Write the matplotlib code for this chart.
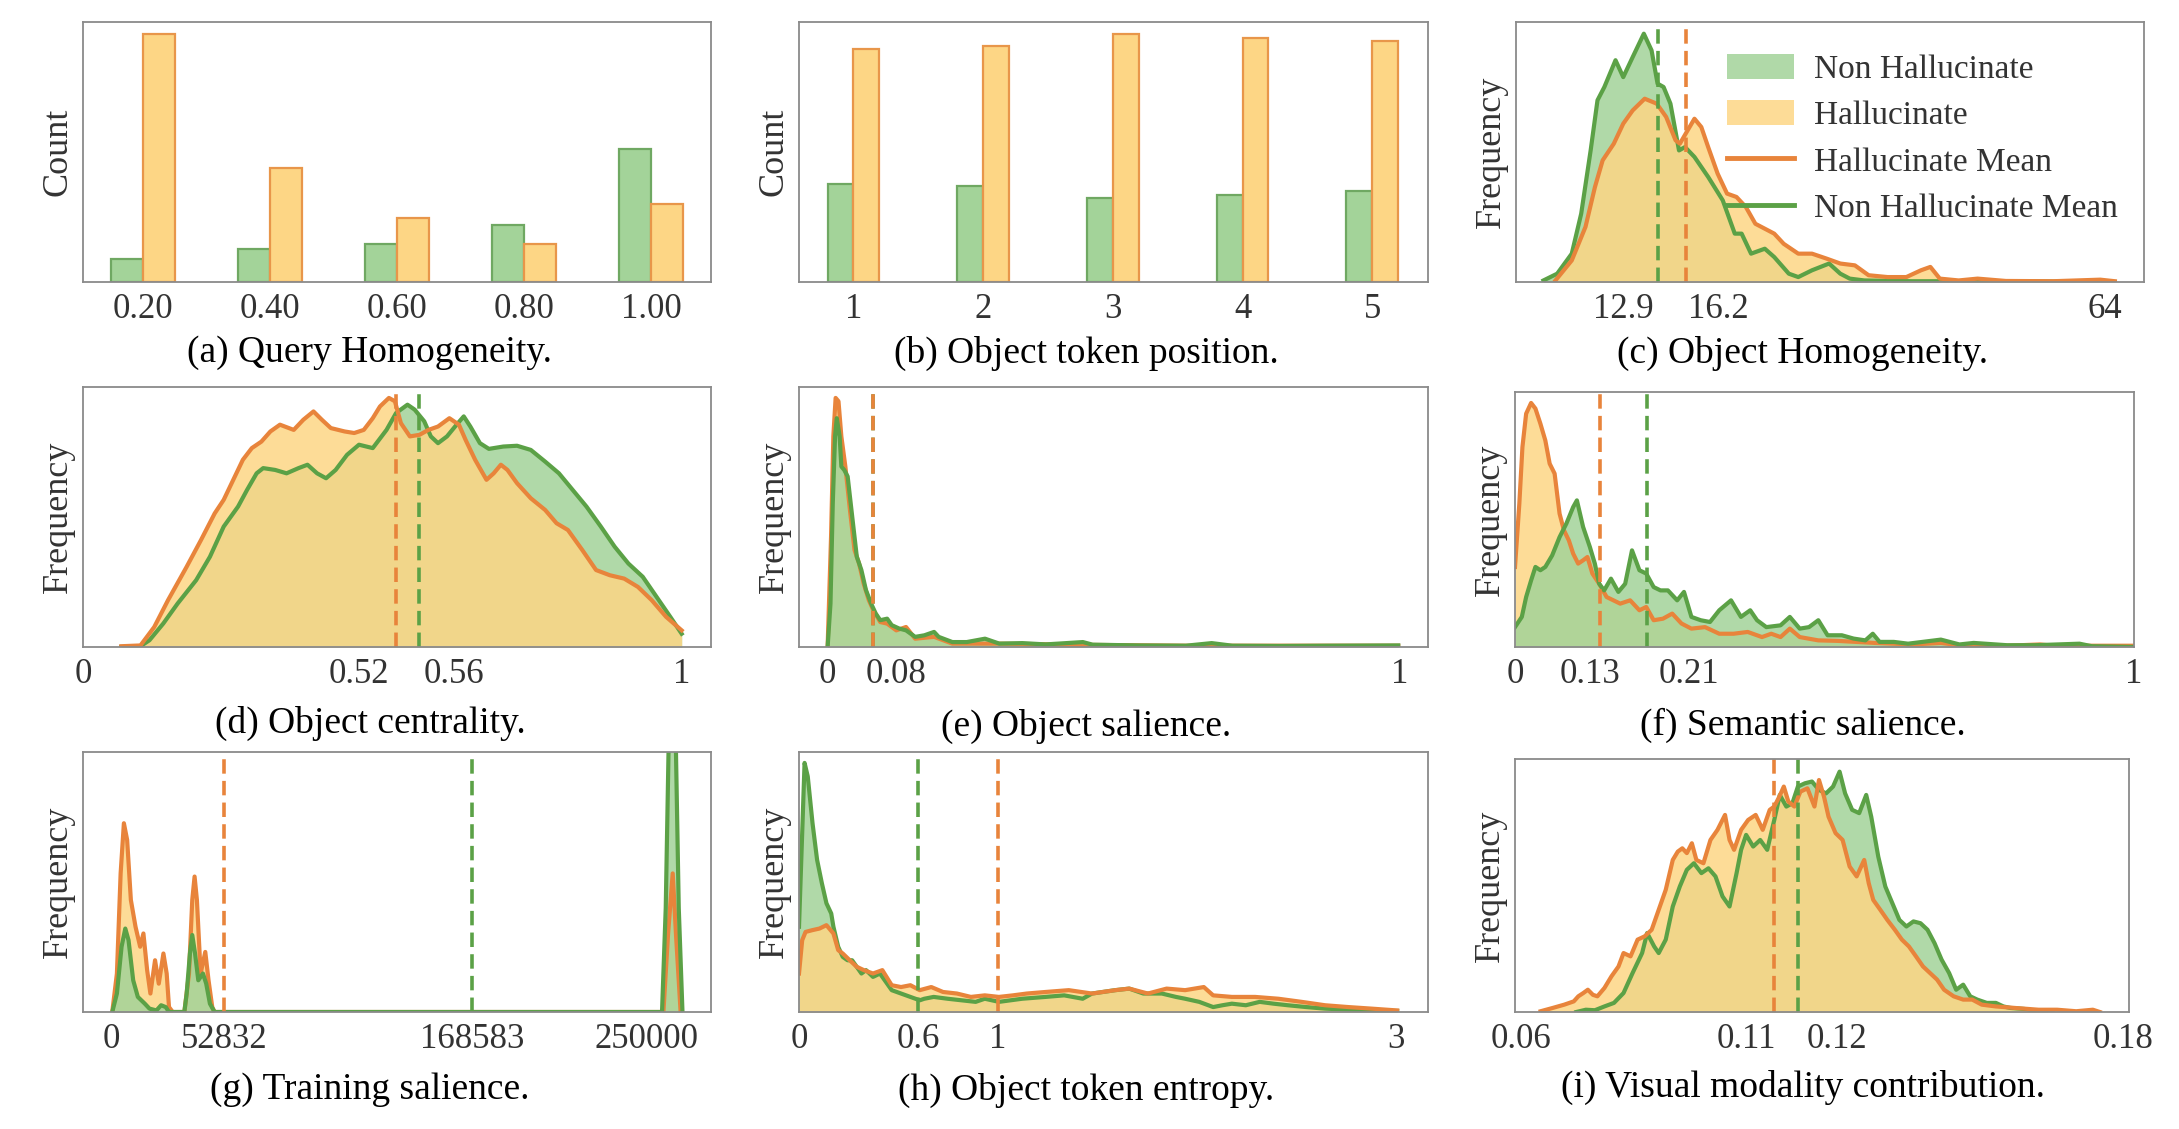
import matplotlib.pyplot as plt
from matplotlib.patches import Patch
from matplotlib.lines import Line2D

plt.rcParams['font.family'] = ['Liberation Serif', 'DejaVu Serif']

GREEN_FILL = '#a3d399'
GREEN_LINE = '#5ba146'
GREEN_EDGE = '#6fa862'
ORANGE_FILL = '#fdd685'
ORANGE_LINE = '#e8843b'
ORANGE_EDGE = '#e8964a'
TEXT = '#333333'

# (a) query homogeneity, counts
qh_cats = [0.2, 0.4, 0.6, 0.8, 1.0]
qh_labels = ['0.20', '0.40', '0.60', '0.80', '1.00']
qh_non = [23, 33, 38, 57, 133]
qh_hal = [248, 114, 64, 38, 78]

# (b) object token position, counts
pos_cats = [1, 2, 3, 4, 5]
pos_non = [98, 96, 84, 87, 91]
pos_hal = [233, 236, 248, 244, 241]

# (c) object homogeneity
oh_non_x = [-0.4, 1.2, 2.9, 4.0, 5.1, 5.9, 6.7, 8.0, 8.9, 10.0, 11.3, 12.2, 12.9, 13.6, 14.4,
            15.4, 16.1, 17.2, 18.8, 20.5, 21.9, 22.7, 23.8, 25.4, 26.5, 28.2, 29.3, 30.9, 32.9,
            34.2, 35.3, 37.0, 42.5, 53.5, 66.2]
oh_non_y = [0.6, 3.2, 10.9, 26.3, 50.6, 69.9, 75.0, 85.3, 78.8, 86.5, 95.5, 89.1, 76.3, 75.0, 68.6,
            50.6, 51.9, 48.1, 40.4, 31.4, 18.6, 18.6, 10.9, 12.8, 9.6, 3.2, 1.9, 4.5, 7.1,
            3.2, 1.3, 0.6, 0.3, 0.3, 0.0]
oh_hal_x = [1.0, 2.9, 4.5, 5.6, 6.5, 7.8, 8.9, 10.0, 11.4, 12.8, 13.9, 15.0, 15.5, 16.4, 17.2,
            18.0, 18.8, 19.9, 21.0, 22.1, 23.2, 24.3, 25.4, 26.5, 27.6, 29.3, 30.9, 32.6, 34.2,
            35.9, 37.5, 39.7, 41.9, 43.6, 44.7, 45.8, 48.0, 50.2, 53.5, 59.0, 64.5, 66.2]
oh_hal_y = [0.6, 8.3, 21.2, 36.5, 46.8, 53.2, 60.9, 66.0, 70.5, 68.6, 63.5, 54.5, 53.2, 58.3, 62.8,
            59.6, 51.9, 41.7, 34.0, 32.7, 28.8, 22.4, 20.5, 18.6, 14.7, 10.9, 10.9, 9.0, 7.1,
            6.4, 2.6, 1.9, 1.9, 4.5, 5.8, 1.3, 0.6, 1.3, 0.4, 0.3, 0.9, 0.3]
oh_means = (12.9, 16.2)
oh_ticks = [8.9, 20.0, 65.0]
oh_labels = ['12.9', '16.2', '64']

# (d) object centrality
oc_hal_x = [0.064, 0.096, 0.119, 0.142, 0.173, 0.197, 0.220, 0.235, 0.251, 0.267, 0.282, 0.298, 0.313,
            0.329, 0.352, 0.368, 0.385, 0.399, 0.414, 0.437, 0.453, 0.469, 0.484, 0.496, 0.511, 0.521,
            0.531, 0.546, 0.562, 0.577, 0.593, 0.612, 0.628, 0.639, 0.655, 0.674, 0.686, 0.698, 0.709,
            0.725, 0.748, 0.772, 0.791, 0.810, 0.834, 0.857, 0.880, 0.904, 0.927, 0.950, 0.974, 1.0]
oc_hal_y = [0.3, 0.6, 7.7, 18.0, 30.8, 41.1, 51.4, 56.6, 64.3, 72.0, 76.5, 79.0, 82.9,
            85.5, 83.5, 87.4, 90.6, 87.4, 84.2, 82.9, 82.3, 83.5, 88.0, 92.5, 95.8, 94.5,
            86.1, 81.0, 81.6, 83.5, 84.8, 88.0, 85.5, 79.7, 72.0, 64.3, 66.8, 70.1, 68.1,
            63.0, 57.2, 52.7, 47.6, 45.0, 37.3, 29.6, 27.6, 26.3, 23.1, 18.0, 11.6, 6.4]
oc_non_x = [0.064, 0.096, 0.111, 0.134, 0.158, 0.189, 0.212, 0.235, 0.259, 0.274, 0.290, 0.301, 0.321,
            0.340, 0.360, 0.375, 0.391, 0.406, 0.422, 0.441, 0.461, 0.484, 0.507, 0.523, 0.542, 0.554,
            0.570, 0.581, 0.593, 0.608, 0.624, 0.636, 0.647, 0.663, 0.678, 0.702, 0.725, 0.748, 0.772,
            0.795, 0.818, 0.841, 0.865, 0.888, 0.911, 0.935, 0.958, 0.981, 1.0]
oc_non_y = [0.0, 0.3, 2.6, 9.0, 16.7, 25.7, 34.7, 46.3, 54.0, 60.4, 66.8, 68.8, 68.1,
            66.8, 68.8, 70.1, 66.8, 64.9, 68.1, 73.9, 77.8, 76.5, 83.5, 90.0, 93.2, 91.3,
            86.8, 81.0, 78.4, 81.0, 85.5, 88.7, 84.8, 78.4, 76.2, 77.1, 77.4, 75.8, 71.3,
            66.8, 60.4, 54.0, 46.3, 38.6, 32.1, 27.0, 19.3, 11.6, 5.1]
oc_means = (0.562, 0.522)
oc_ticks = [0.0, 0.46, 0.62, 1.0]
oc_labels = ['0', '0.52', '0.56', '1']

# (e) object salience
os_non_x = [0.001, 0.006, 0.010, 0.014, 0.017, 0.022, 0.025, 0.030, 0.036, 0.044, 0.052, 0.060, 0.068,
            0.077, 0.085, 0.093, 0.105, 0.113, 0.126, 0.138, 0.154, 0.170, 0.187, 0.195, 0.219, 0.244,
            0.276, 0.301, 0.341, 0.382, 0.447, 0.464, 0.545, 0.627, 0.672, 0.708, 0.790, 0.871, 0.998]
os_non_y = [0.0, 16.7, 55.3, 81.0, 88.0, 81.0, 69.4, 68.1, 65.6, 50.1, 34.7, 29.6, 21.9,
            16.7, 12.9, 10.3, 10.9, 8.4, 7.1, 6.4, 3.9, 4.5, 5.8, 3.9, 1.9, 1.9,
            3.2, 1.3, 1.5, 1.0, 1.9, 0.9, 0.6, 0.5, 1.5, 0.5, 0.4, 0.5, 0.6]
os_hal_x = [0.001, 0.007, 0.011, 0.015, 0.020, 0.025, 0.032, 0.040, 0.048, 0.056, 0.064, 0.073,
            0.081, 0.093, 0.105, 0.121, 0.138, 0.154, 0.187, 0.219, 0.301, 0.464, 0.627, 0.998]
os_hal_y = [0.0, 42.4, 81.0, 95.8, 94.5, 81.0, 69.4, 52.7, 37.3, 32.1, 24.4, 18.0,
            14.1, 9.6, 9.0, 6.4, 7.7, 3.2, 3.9, 1.3, 1.3, 0.8, 0.5, 0.5]
os_means = (0.080, 0.081)
os_ticks = [0.0, 0.12, 1.0]
os_labels = ['0', '0.08', '1']

# (f) semantic salience
ss_hal_x = [0.0, 0.007, 0.012, 0.018, 0.026, 0.033, 0.041, 0.049, 0.056, 0.064, 0.072, 0.079, 0.087,
            0.094, 0.102, 0.110, 0.117, 0.125, 0.136, 0.148, 0.159, 0.170, 0.186, 0.201, 0.212, 0.224,
            0.239, 0.254, 0.269, 0.285, 0.307, 0.330, 0.353, 0.376, 0.399, 0.414, 0.429, 0.444, 0.460,
            0.490, 0.521, 0.551, 0.581, 0.642, 0.688, 0.718, 0.795, 0.848, 0.871, 1.0]
ss_hal_y = [31.4, 56.2, 78.4, 91.5, 95.7, 93.5, 87.6, 81.0, 71.9, 68.0, 52.3, 45.8, 41.8,
            36.6, 32.7, 34.0, 35.3, 28.8, 24.8, 19.6, 18.3, 17.0, 18.3, 14.4, 15.7, 10.5,
            11.1, 13.1, 9.2, 7.2, 7.8, 5.2, 5.2, 5.9, 3.9, 5.2, 3.9, 7.2, 3.9,
            2.6, 2.4, 2.0, 1.6, 1.0, 1.6, 0.7, 0.5, 1.0, 0.5, 0.5]
ss_non_x = [0.0, 0.011, 0.018, 0.026, 0.033, 0.041, 0.049, 0.060, 0.072, 0.083, 0.094, 0.100, 0.110,
            0.121, 0.129, 0.136, 0.144, 0.155, 0.167, 0.178, 0.189, 0.201, 0.212, 0.224, 0.235, 0.247,
            0.262, 0.273, 0.285, 0.300, 0.315, 0.330, 0.349, 0.365, 0.380, 0.391, 0.406, 0.429, 0.444,
            0.460, 0.475, 0.490, 0.505, 0.528, 0.547, 0.566, 0.578, 0.589, 0.612, 0.635, 0.688, 0.718,
            0.741, 0.795, 0.840, 0.912, 0.932, 1.0]
ss_non_y = [7.8, 11.8, 19.6, 26.1, 31.4, 30.1, 31.4, 35.9, 43.1, 48.4, 54.9, 57.5, 47.1,
            39.2, 32.7, 24.8, 22.2, 26.8, 21.6, 24.8, 37.9, 30.1, 28.8, 23.5, 22.2, 22.2,
            18.3, 21.6, 11.8, 10.5, 9.8, 14.4, 18.3, 11.8, 14.4, 10.5, 7.8, 8.5, 11.8,
            7.2, 7.8, 10.5, 4.6, 4.6, 3.3, 2.6, 5.2, 2.0, 2.0, 1.3, 2.9, 1.0,
            1.6, 0.7, 0.7, 1.3, 0.3, 0.0]
ss_means = (0.213, 0.138)
ss_ticks = [0.0, 0.121, 0.281, 1.0]
ss_labels = ['0', '0.13', '0.21', '1']

# (g) training salience
ts_hal_x = [651, 2821, 4557, 6076, 7595, 9331, 11501, 13671, 15190, 16926, 18445, 20615, 22351,
            24521, 26040, 27125, 28861, 34286, 36456, 37975, 39060, 40145, 41881, 44051, 45570,
            47306, 48391, 257796, 259966, 262136, 263655, 265825]
ts_hal_y = [0.0, 14.8, 53.3, 72.6, 66.2, 43.1, 32.8, 25.1, 30.2, 16.1, 7.1, 19.9, 10.9,
            22.5, 14.8, 1.9, 0.0, 0.0, 14.8, 43.1, 52.1, 43.1, 14.8, 23.1, 12.2,
            1.9, 0.0, 0.0, 30.0, 53.3, 30.0, 0.0]
ts_non_x = [651, 2821, 4991, 6727, 8246, 10416, 12586, 15841, 18011, 21266, 23436, 25606, 27125,
            34286, 35371, 36890, 37975, 39277, 40796, 42966, 44485, 46221, 48391, 257145, 258881,
            260183, 261919, 263655, 264957, 266693]
ts_non_y = [0.0, 7.1, 25.1, 32.1, 27.6, 12.2, 5.8, 3.2, 1.3, 0.6, 2.6, 1.9, 0.0,
            0.0, 7.1, 22.5, 29.6, 22.5, 12.2, 14.8, 10.9, 3.2, 0.0, 0.0, 40.0,
            100.0, 250.0, 100.0, 40.0, 0.0]
ts_means = (168583, 52832)
ts_ticks = [0, 52832, 168583, 250000]
ts_labels = ['0', '52832', '168583', '250000']

# (h) object token entropy
te_non_x = [0.0, 0.028, 0.044, 0.068, 0.091, 0.115, 0.138, 0.162, 0.173, 0.197, 0.220, 0.244, 0.267,
            0.290, 0.314, 0.337, 0.372, 0.407, 0.431, 0.466, 0.513, 0.560, 0.607, 0.630, 0.677, 0.747,
            0.817, 0.888, 0.934, 1.005, 1.122, 1.239, 1.333, 1.426, 1.473, 1.590, 1.660, 1.731, 1.824,
            1.895, 1.941, 2.012, 2.082, 2.129, 2.176, 2.246, 2.316, 2.386, 2.457, 2.550, 2.644, 2.761,
            2.878, 3.007]
te_non_y = [32.8, 95.8, 90.6, 72.6, 58.5, 49.5, 41.8, 37.9, 32.8, 25.1, 21.2, 19.9, 19.9,
            17.4, 14.8, 16.1, 13.5, 14.8, 12.2, 8.4, 7.1, 5.8, 4.5, 5.1, 5.8, 5.1,
            4.5, 3.9, 5.1, 3.9, 5.1, 5.8, 6.4, 5.1, 7.1, 8.4, 9.0, 7.1, 7.1,
            5.8, 5.1, 3.9, 1.9, 2.6, 3.2, 2.6, 3.9, 3.2, 2.6, 1.9, 1.3, 0.9,
            0.6, 0.4]
te_hal_x = [0.0, 0.016, 0.033, 0.068, 0.103, 0.138, 0.173, 0.197, 0.220, 0.255, 0.290, 0.326, 0.372,
            0.419, 0.466, 0.513, 0.560, 0.607, 0.665, 0.724, 0.794, 0.864, 0.934, 1.005, 1.075, 1.145,
            1.239, 1.356, 1.473, 1.590, 1.660, 1.754, 1.848, 1.941, 2.035, 2.082, 2.176, 2.293, 2.410,
            2.527, 2.644, 2.761, 2.878, 3.007]
te_hal_y = [14.8, 27.6, 30.8, 31.5, 32.1, 33.4, 30.2, 23.8, 22.5, 19.9, 17.4, 16.1, 14.8,
            16.1, 10.3, 9.6, 10.3, 8.4, 9.6, 7.7, 7.1, 5.8, 6.4, 5.8, 6.4, 7.1,
            7.7, 8.4, 7.1, 8.4, 9.0, 7.1, 9.0, 8.4, 9.6, 6.4, 5.8, 5.8, 5.1,
            3.9, 2.6, 1.9, 1.3, 0.6]
te_means = (0.6, 1.0)
te_ticks = [0.0, 0.6, 1.0, 3.0]
te_labels = ['0', '0.6', '1', '3']

# (i) visual modality contribution
vm_hal_x = [0.0641, 0.0665, 0.0688, 0.0707, 0.0716, 0.0726, 0.0735, 0.0745, 0.0754, 0.0768, 0.0782,
            0.0796, 0.0806, 0.0820, 0.0834, 0.0848, 0.0862, 0.0876, 0.0890, 0.0904, 0.0914, 0.0923,
            0.0932, 0.0942, 0.0951, 0.0965, 0.0979, 0.0993, 0.1008, 0.1017, 0.1026, 0.1040, 0.1054,
            0.1069, 0.1083, 0.1097, 0.1106, 0.1116, 0.1125, 0.1134, 0.1146, 0.1158, 0.1172, 0.1186,
            0.1195, 0.1205, 0.1214, 0.1228, 0.1242, 0.1256, 0.1270, 0.1285, 0.1294, 0.1303, 0.1317,
            0.1331, 0.1346, 0.1360, 0.1374, 0.1388, 0.1402, 0.1416, 0.1430, 0.1444, 0.1463, 0.1482,
            0.1500, 0.1519, 0.1547, 0.1585, 0.1632, 0.1669, 0.1707, 0.1740, 0.1754]
vm_hal_y = [0.3, 1.6, 2.9, 4.2, 6.2, 7.5, 8.8, 6.8, 6.2, 9.5, 14.1,
            18.0, 23.3, 22.0, 28.6, 29.9, 32.5, 40.4, 48.3, 60.1, 63.4, 64.7,
            62.8, 66.7, 60.1, 58.8, 68.0, 72.0, 77.9, 68.0, 64.1, 72.0, 75.9,
            77.9, 72.0, 79.9, 81.2, 85.1, 89.1, 83.2, 81.2, 87.1, 88.4, 81.2,
            91.7, 85.1, 77.2, 70.7, 68.0, 57.5, 53.6, 60.1, 50.9, 44.3, 40.4,
            36.4, 32.5, 28.6, 25.9, 22.0, 18.0, 15.4, 12.8, 8.8, 6.2, 4.9,
            4.9, 2.9, 2.2, 1.6, 0.9, 0.9, 0.3, 0.9, 0.0]
vm_non_x = [0.0712, 0.0731, 0.0749, 0.0768, 0.0787, 0.0806, 0.0824, 0.0843, 0.0853, 0.0867, 0.0876,
            0.0890, 0.0904, 0.0918, 0.0932, 0.0946, 0.0961, 0.0975, 0.0989, 0.1003, 0.1017, 0.1031,
            0.1040, 0.1050, 0.1064, 0.1078, 0.1092, 0.1106, 0.1117, 0.1130, 0.1142, 0.1153, 0.1167,
            0.1181, 0.1195, 0.1209, 0.1223, 0.1236, 0.1247, 0.1261, 0.1275, 0.1289, 0.1299, 0.1313,
            0.1327, 0.1341, 0.1355, 0.1369, 0.1383, 0.1397, 0.1411, 0.1425, 0.1439, 0.1454, 0.1468,
            0.1482, 0.1496, 0.1510, 0.1529, 0.1547, 0.1562, 0.1576, 0.1604, 0.1632, 0.1660]
vm_non_y = [0.0, 0.9, 0.7, 2.2, 3.6, 7.5, 15.4, 23.3, 31.2, 25.9, 23.3,
            28.6, 41.7, 49.6, 56.2, 58.8, 54.9, 56.8, 53.6, 45.7, 41.7, 54.9,
            64.1, 70.0, 65.4, 68.0, 64.1, 75.9, 85.8, 81.2, 82.5, 89.1, 90.4,
            91.1, 87.8, 86.4, 89.1, 95.0, 86.4, 79.9, 78.6, 85.8, 77.2, 61.4,
            49.6, 43.0, 36.4, 33.8, 35.8, 35.1, 32.5, 27.2, 20.7, 15.4, 8.8,
            10.8, 6.2, 4.9, 3.6, 3.6, 2.2, 1.6, 1.2, 0.3, 0.0]
vm_means = (0.1153, 0.1105)
vm_ticks = [0.0601, 0.105, 0.1231, 0.1801]
vm_labels = ['0.06', '0.11', '0.12', '0.18']

W, H = 2179, 1129
fig = plt.figure(figsize=(W / 100, H / 100), dpi=100)


def add_axes(l, t, r, b):
    return fig.add_axes([l / W, 1 - b / H, (r - l) / W, (b - t) / H])


def style(ax, ylabel, ticks, labels, xlim):
    ax.set_xlim(*xlim)
    ax.set_xticks(ticks)
    ax.set_xticklabels(labels)
    ax.set_yticks([])
    ax.tick_params(axis='x', length=0, pad=8, labelsize=25, labelcolor=TEXT)
    ax.set_ylabel(ylabel, fontsize=26, color=TEXT, labelpad=6)
    for sp in ax.spines.values():
        sp.set_color('#8a8a8a')
        sp.set_linewidth(1.3)
    ax.set_facecolor('white')


def bars(ax, cats, non, hal, width, labels, xlim):
    left = [c - width / 2 for c in cats]
    right = [c + width / 2 for c in cats]
    ax.bar(left, non, width=width, color=GREEN_FILL, edgecolor=GREEN_EDGE, lw=1.6)
    ax.bar(right, hal, width=width, color=ORANGE_FILL, edgecolor=ORANGE_EDGE, lw=1.6)
    ax.set_ylim(0, 260)
    style(ax, 'Count', cats, labels, xlim)


def kde(ax, nx, ny, hx, hy, means, ticks, labels, xlim, green_top):
    layers = [(nx, ny, GREEN_FILL, GREEN_LINE), (hx, hy, ORANGE_FILL, ORANGE_LINE)]
    if green_top:
        layers = layers[::-1]
    for x, y, fc, lc in layers:
        ax.fill_between(x, y, 0, color=fc, alpha=0.85, lw=0)
    for x, y, fc, lc in layers:
        ax.plot(x, y, color=lc, lw=3.0, solid_joinstyle='round')
    ax.axvline(means[0], color=GREEN_LINE, ls=(0, (4, 2)), lw=2.6)
    ax.axvline(means[1], color=ORANGE_LINE, ls=(0, (4, 2)), lw=2.6)
    ax.set_ylim(0, 100)
    style(ax, 'Frequency', ticks, labels, xlim)


ax_a = add_axes(83, 22, 711, 282)
bars(ax_a, qh_cats, qh_non, qh_hal, 0.05, qh_labels, (0.1055, 1.0945))

ax_b = add_axes(799, 22, 1428, 282)
bars(ax_b, pos_cats, pos_non, pos_hal, 0.2, [str(c) for c in pos_cats], (0.58, 5.43))

ax_c = add_axes(1516, 22, 2144, 282)
kde(ax_c, oh_non_x, oh_non_y, oh_hal_x, oh_hal_y, oh_means, oh_ticks, oh_labels, (-3.6, 69.6), False)
handles = [Patch(facecolor=GREEN_FILL, edgecolor='none', alpha=0.85, label='Non Hallucinate'),
           Patch(facecolor=ORANGE_FILL, edgecolor='none', alpha=0.85, label='Hallucinate'),
           Line2D([], [], color=ORANGE_LINE, lw=3.5, label='Hallucinate Mean'),
           Line2D([], [], color=GREEN_LINE, lw=3.5, label='Non Hallucinate Mean')]
leg = ax_c.legend(handles=handles, loc='upper left', bbox_to_anchor=(0.315, 0.93), frameon=False,
                  fontsize=24, handlelength=2.0, handleheight=0.8, handletextpad=0.6,
                  labelspacing=0.45, borderaxespad=0)
for t in leg.get_texts():
    t.set_color(TEXT)

ax_d = add_axes(83, 387, 711, 647)
kde(ax_d, oc_non_x, oc_non_y, oc_hal_x, oc_hal_y, oc_means, oc_ticks, oc_labels, (0.0, 1.049), False)

ax_e = add_axes(799, 387, 1428, 647)
kde(ax_e, os_non_x, os_non_y, os_hal_x, os_hal_y, os_means, os_ticks, os_labels, (-0.049, 1.05), True)

ax_f = add_axes(1515, 392, 2134, 647)
kde(ax_f, ss_non_x, ss_non_y, ss_hal_x, ss_hal_y, ss_means, ss_ticks, ss_labels, (0.0, 1.0), True)

ax_g = add_axes(83, 752, 711, 1012)
kde(ax_g, ts_non_x, ts_non_y, ts_hal_x, ts_hal_y, ts_means, ts_ticks, ts_labels, (-13000, 280000), True)

ax_h = add_axes(799, 752, 1428, 1012)
kde(ax_h, te_non_x, te_non_y, te_hal_x, te_hal_y, te_means, te_ticks, te_labels, (0.0, 3.162), False)

ax_i = add_axes(1515, 759, 2129, 1012)
kde(ax_i, vm_non_x, vm_non_y, vm_hal_x, vm_hal_y, vm_means, vm_ticks, vm_labels, (0.059, 0.1812), False)

captions = [
    ('(a) Query Homogeneity.', 370, 353), ('(b) Object token position.', 1086, 353),
    ('(c) Object Homogeneity.', 1803, 353), ('(d) Object centrality.', 370, 723),
    ('(e) Object salience.', 1086, 726), ('(f) Semantic salience.', 1803, 725),
    ('(g) Training salience.', 370, 1090), ('(h) Object token entropy.', 1086, 1090),
    ('(i) Visual modality contribution.', 1803, 1087),
]
for text, x, y in captions:
    fig.text(x / W, 1 - y / H, text, ha='center', va='center', fontsize=27, color='black')

fig.savefig('out.png', dpi=100, facecolor='white')
